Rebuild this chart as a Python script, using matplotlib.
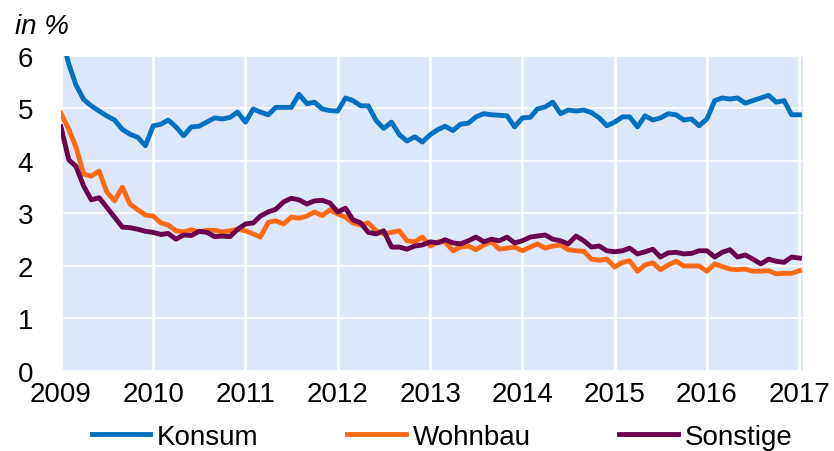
import pandas as pd
import matplotlib
matplotlib.use("Agg")
import matplotlib.pyplot as plt
import matplotlib.dates as mdates

plt.rcParams["font.family"] = ["Liberation Sans", "DejaVu Sans"]

# monthly values, Jan 2009 .. Jan 2017
months = pd.date_range("2009-01-01", periods=97, freq="MS")

konsum = [
    6.40, 5.85, 5.45, 5.17, 5.05, 4.95, 4.86, 4.78, 4.60, 4.51, 4.45, 4.29,
    4.67, 4.70, 4.78, 4.65, 4.48, 4.65, 4.66, 4.74, 4.82, 4.80, 4.83, 4.93,
    4.74, 4.99, 4.93, 4.88, 5.02, 5.02, 5.02, 5.27, 5.09, 5.12, 4.99, 4.96,
    4.95, 5.20, 5.15, 5.05, 5.05, 4.77, 4.62, 4.74, 4.50, 4.38, 4.46, 4.36,
    4.50, 4.60, 4.66, 4.58, 4.70, 4.72, 4.84, 4.90, 4.88, 4.87, 4.86, 4.65,
    4.82, 4.83, 4.99, 5.03, 5.12, 4.90, 4.97, 4.95, 4.97, 4.92, 4.82, 4.67,
    4.74, 4.84, 4.84, 4.65, 4.86, 4.78, 4.82, 4.90, 4.88, 4.78, 4.80, 4.67,
    4.80, 5.15, 5.20, 5.18, 5.20, 5.10, 5.15, 5.20, 5.25, 5.12, 5.15, 4.88,
    4.88,
]

wohnbau = [
    4.91, 4.60, 4.27, 3.75, 3.71, 3.81, 3.41, 3.24, 3.50, 3.18, 3.07, 2.97,
    2.95, 2.82, 2.78, 2.67, 2.65, 2.69, 2.65, 2.68, 2.68, 2.65, 2.67, 2.70,
    2.67, 2.61, 2.55, 2.83, 2.86, 2.80, 2.93, 2.91, 2.95, 3.03, 2.96, 3.07,
    2.99, 2.93, 2.82, 2.78, 2.82, 2.67, 2.61, 2.64, 2.67, 2.48, 2.46, 2.55,
    2.38, 2.46, 2.46, 2.29, 2.36, 2.38, 2.31, 2.40, 2.46, 2.32, 2.34, 2.36,
    2.29, 2.36, 2.42, 2.34, 2.38, 2.40, 2.31, 2.29, 2.28, 2.13, 2.11, 2.13,
    1.98, 2.07, 2.10, 1.90, 2.02, 2.06, 1.93, 2.02, 2.09, 2.00, 2.00, 2.00,
    1.90, 2.04, 1.99, 1.94, 1.93, 1.94, 1.90, 1.90, 1.91, 1.85, 1.86, 1.86,
    1.91,
]

sonstige = [
    4.65, 4.02, 3.90, 3.52, 3.26, 3.30, 3.12, 2.93, 2.74, 2.73, 2.70, 2.66,
    2.64, 2.60, 2.62, 2.51, 2.59, 2.58, 2.66, 2.64, 2.56, 2.57, 2.56, 2.70,
    2.80, 2.82, 2.95, 3.03, 3.08, 3.22, 3.29, 3.26, 3.18, 3.24, 3.25, 3.20,
    3.03, 3.10, 2.88, 2.82, 2.64, 2.61, 2.67, 2.36, 2.36, 2.32, 2.38, 2.40,
    2.46, 2.44, 2.50, 2.44, 2.42, 2.48, 2.55, 2.46, 2.51, 2.48, 2.55, 2.44,
    2.48, 2.55, 2.57, 2.59, 2.51, 2.48, 2.42, 2.57, 2.48, 2.36, 2.38, 2.29,
    2.27, 2.29, 2.34, 2.23, 2.27, 2.32, 2.17, 2.25, 2.26, 2.23, 2.24, 2.29,
    2.29, 2.17, 2.26, 2.31, 2.17, 2.21, 2.13, 2.04, 2.13, 2.09, 2.07, 2.17,
    2.15,
]

series = [("Konsum", konsum, "#0070c0"),
          ("Wohnbau", wohnbau, "#ff6a13"),
          ("Sonstige", sonstige, "#6b0050")]

fig = plt.figure(figsize=(8.34, 4.52), dpi=100)
ax = fig.add_axes([0.0731, 0.177, 0.8897, 0.697])
ax.set_facecolor("#dce7fb")

for name, vals, col in series:
    ax.plot(months, vals, color=col, lw=3.5, label=name)

ax.set_ylim(0, 6)
ax.set_yticks(range(0, 7))
ax.set_xlim(pd.Timestamp("2009-01-01"), pd.Timestamp("2017-01-15"))
ax.xaxis.set_major_locator(mdates.YearLocator())
ax.xaxis.set_major_formatter(mdates.DateFormatter("%Y"))

ax.grid(True, axis="x", color="white", lw=2.0)
ax.grid(True, axis="y", color="white", lw=1.2)
ax.set_axisbelow(True)
for s in ax.spines.values():
    s.set_visible(False)
ax.tick_params(axis="both", length=0, labelsize=20)
ax.tick_params(axis="y", pad=20)
ax.tick_params(axis="x", pad=7)

fig.text(15 / 834, 1 - 34 / 452, "in %", fontsize=20, style="italic",
         ha="left", va="baseline")

fig.legend(loc="center", bbox_to_anchor=(0.53, 1 - 438 / 452), ncol=3,
           frameon=False, fontsize=20, handlelength=2.1, handletextpad=0.25,
           columnspacing=3.2, borderaxespad=0)

fig.savefig("out.png", dpi=100)
